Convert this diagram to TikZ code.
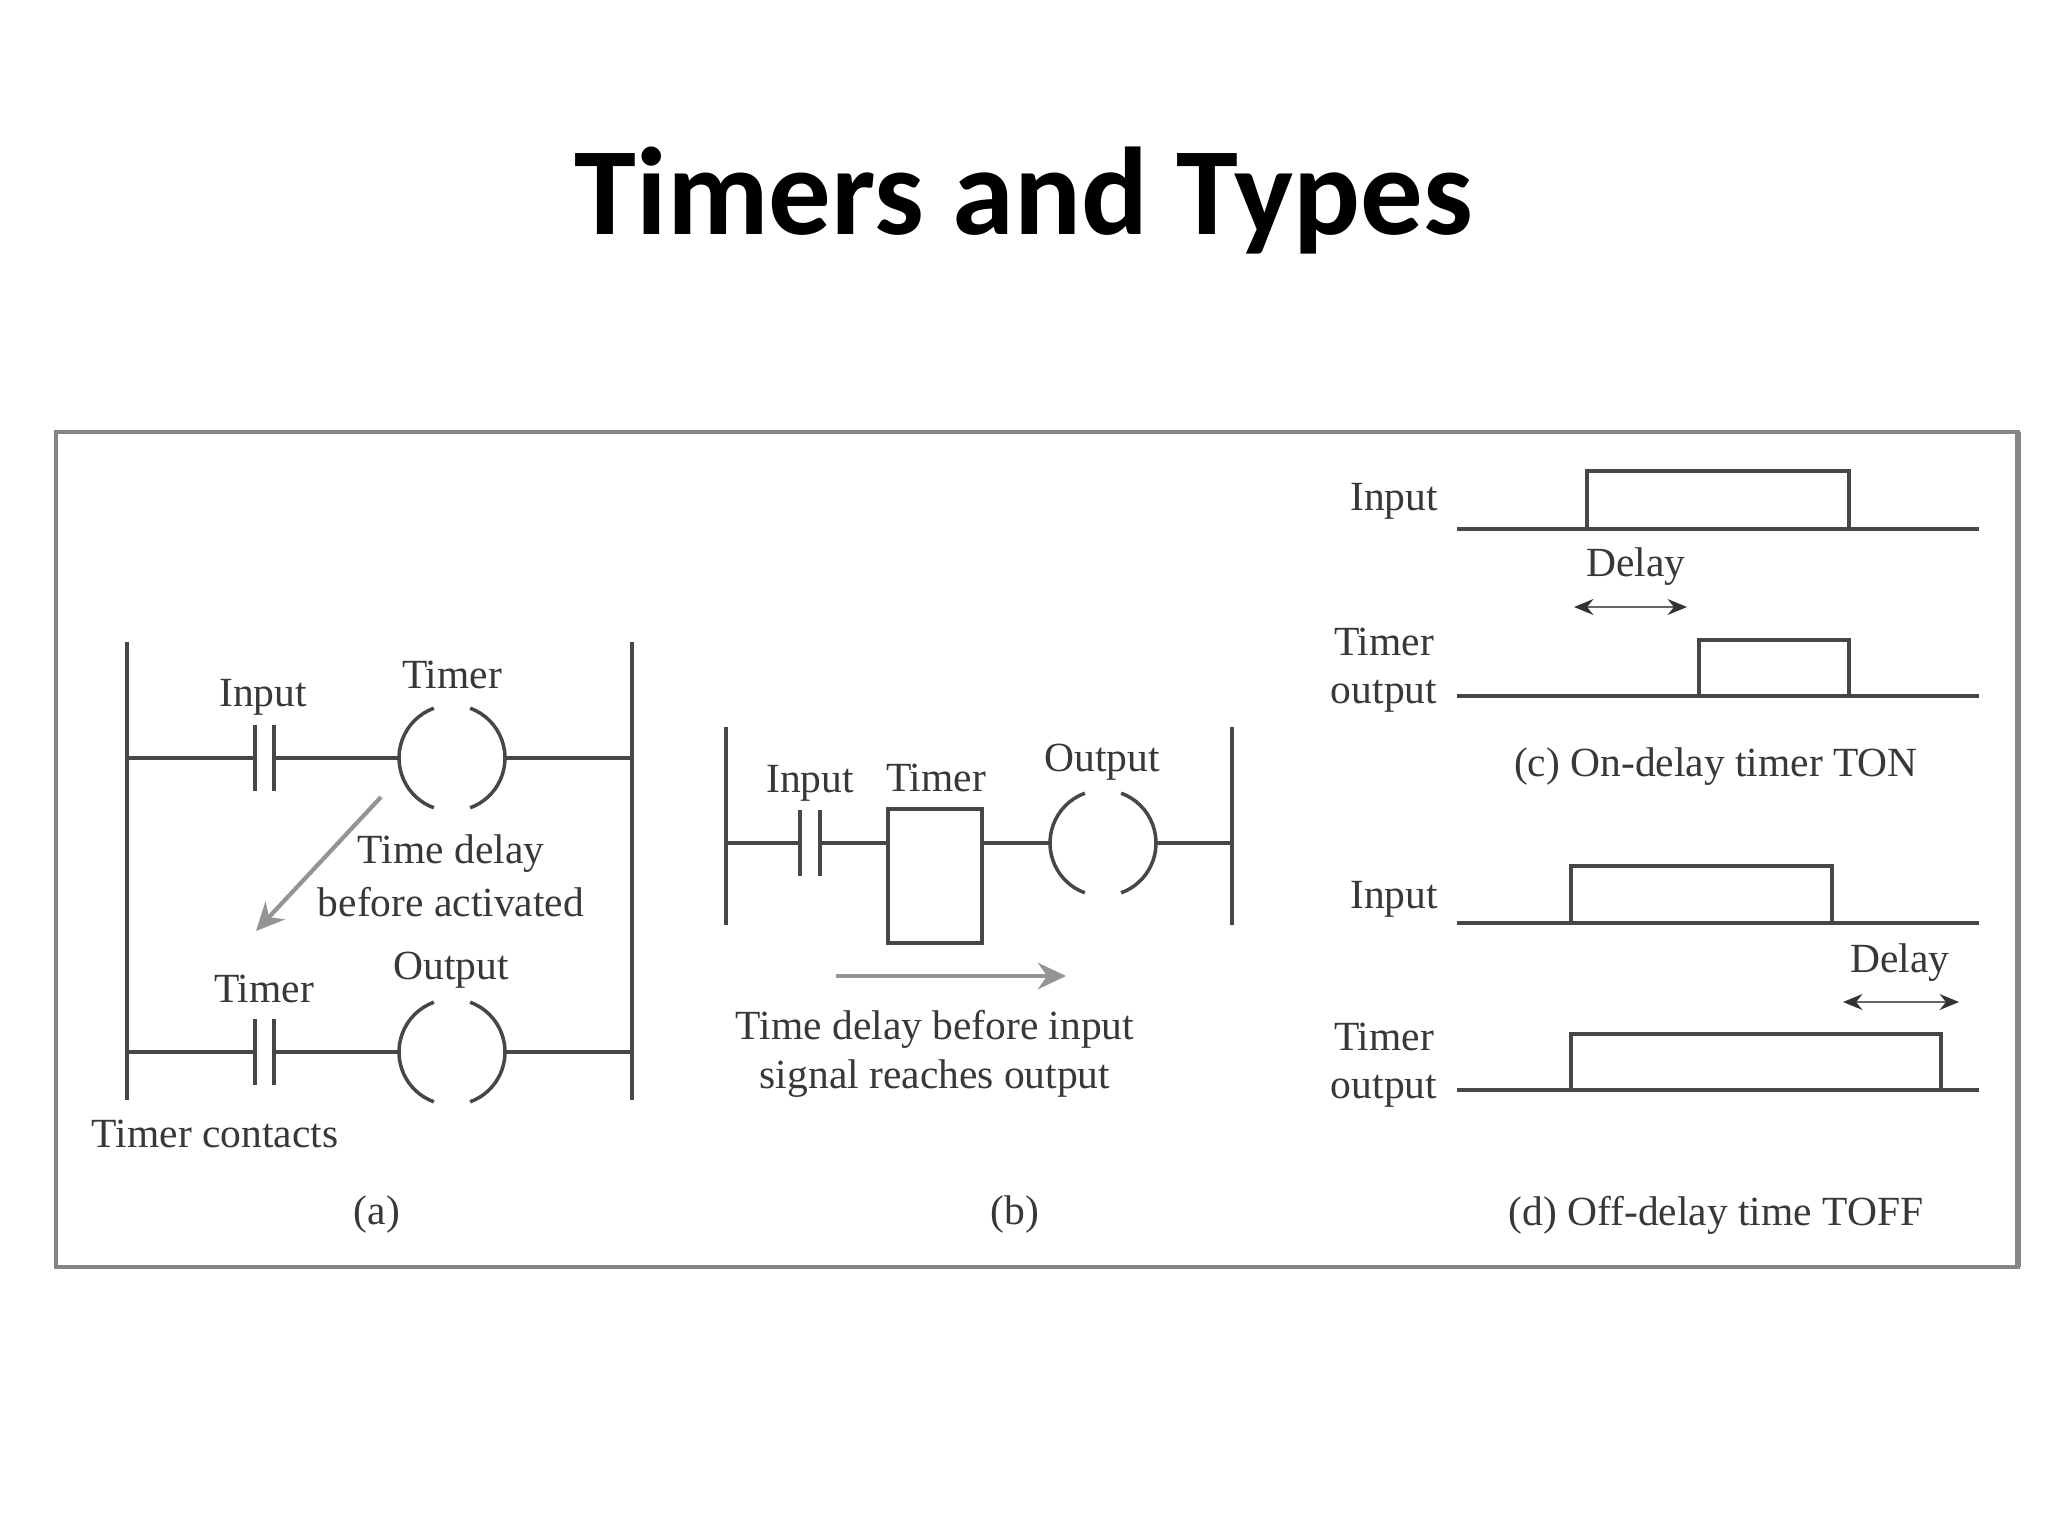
\documentclass[tikz,border=0pt]{standalone}
\usepackage{fontspec}
\setmainfont{Liberation Serif}
\newfontfamily\titlefont{Carlito}
\usetikzlibrary{arrows.meta}
\tikzset{
  label/.style={text=black!78,inner sep=0pt,font=\fontsize{11.8}{13}\selectfont},
  wire/.style={draw=black!72,line width=1.0pt},
  coil/.style={circle,inner sep=0pt,minimum size=1.06cm},
  timerbox/.style={draw=black!72,line width=1.2pt,inner sep=0pt,minimum width=0.94cm,minimum height=1.34cm},
  flowarrow/.style={draw=black!42,line width=1.2pt,-{Stealth[length=8pt,width=7.5pt]}},
  delayarrow/.style={draw=black!60,line width=0.7pt,{Stealth[length=5.5pt,width=4.5pt,black!80]}-{Stealth[length=5.5pt,width=4.5pt,black!80]}},
}
\begin{document}
\begin{tikzpicture}[x=0.01cm,y=-0.01cm]
      \path[fill=white,use as bounding box] (0,0) rectangle (2048,1536);
      \node[inner sep=0pt,font=\titlefont\bfseries\fontsize{35.5}{40}\selectfont] (title) at (1024,201) {Timers and Types};
      \draw[draw=black!48,line width=1.2pt] (56,432) rectangle (2018,1267);
      \draw[draw=black!48,line width=1.6pt] (2018,432) -- (2018,1267);
      % (a) ladder with coil
      \draw
        (127,642) coordinate (aLT)
        (127,1100) coordinate (aLB)
        (632,642) coordinate (aRT)
        (632,1100) coordinate (aRB)
        (127,758) coordinate (aL1)
        (632,758) coordinate (aR1)
        (127,1052) coordinate (aL2)
        (632,1052) coordinate (aR2)
        (255,758) coordinate (aC1)
        (274,758) coordinate (aD1)
        (255,1052) coordinate (aC2)
        (274,1052) coordinate (aD2)
        (381,797) coordinate (aFrom)
        (256,931) coordinate (aTo);
      \node[coil] (coilA) at (452,758) {};
      \node[coil] (coilB) at (452,1052) {};
      \draw
        (263,697) node[label] (aInput){Input}
        (452,675) node[label] (aTimer){Timer}
        (451,854) node[label] (aDelay){Time delay}
        (451,902) node[label] (aBefore){before activated}
        (264,989) node[label] (aContact){Timer}
        (451,970) node[label] (aOutput){Output}
        (215,1134) node[label] (aContacts){Timer contacts}
        (377,1215) node[label] (aCap){(a)};
      \begin{scope}[wire]
        \draw (aLT) to (aLB);
        \draw (aRT) to (aRB);
        \draw (aL1) to (aC1);
        \draw (aD1) to (coilA.west);
        \draw (coilA.east) to (aR1);
        \draw (aL2) to (aC2);
        \draw (aD2) to (coilB.west);
        \draw (coilB.east) to (aR2);
      \end{scope}
      \draw[flowarrow] (aFrom) to (aTo);
      % (b) ladder with box
      \draw
        (726,727) coordinate (bLT)
        (726,925) coordinate (bLB)
        (1232,727) coordinate (bRT)
        (1232,925) coordinate (bRB)
        (726,843) coordinate (bL)
        (1232,843) coordinate (bR)
        (800,843) coordinate (bC)
        (820,843) coordinate (bD)
        (836,976) coordinate (bFrom)
        (1066,976) coordinate (bTo);
      \node[timerbox] (box) at (935,876) {};
      \node[coil] (coilC) at (1103,843) {};
      \draw
        (810,783) node[label] (bInput){Input}
        (936,778) node[label] (bTimer){Timer}
        (1102,762) node[label] (bOutput){Output}
        (935,1029) node[label] (bDelay){Time delay before input}
        (935,1079) node[label] (bSignal){signal reaches output}
        (1015,1215) node[label] (bCap){(b)};
      \begin{scope}[wire]
        \draw (bLT) to (bLB);
        \draw (bRT) to (bRB);
        \draw (bL) to (bC);
        \draw (bD) to (box.west |- bD);
        \draw (box.east |- bD) to (coilC.west);
        \draw (coilC.east) to (bR);
      \end{scope}
      \draw[flowarrow] (bFrom) to (bTo);
      % contacts and coils
      \begin{scope}[wire]
        \foreach \c in {aC1,aD1,aC2,aD2,bC,bD}
          \draw ([yshift=-9.3pt]\c) to ([yshift=9.3pt]\c);
        \foreach \c in {coilA,coilB,coilC} {
          \draw (\c.center) ++(70:53) arc[start angle=70,end angle=-70,radius=53];
          \draw (\c.center) ++(110:53) arc[start angle=110,end angle=250,radius=53];
        }
      \end{scope}
      % (c) on-delay
      \draw
        (1457,529) coordinate (cIL)
        (1979,529) coordinate (cIR)
        (1587,529) coordinate (cIa)
        (1587,471) coordinate (cIb)
        (1849,471) coordinate (cIc)
        (1849,529) coordinate (cId)
        (1457,696) coordinate (cOL)
        (1979,696) coordinate (cOR)
        (1699,696) coordinate (cOa)
        (1699,640) coordinate (cOb)
        (1849,640) coordinate (cOc)
        (1849,696) coordinate (cOd)
        (1574,607) coordinate (cAL)
        (1687,607) coordinate (cAR);
      \draw
        (1394,501) node[label] (cInput){Input}
        (1636,567) node[label] (cDelay){Delay}
        (1384,642) node[label] (cTimer){Timer}
        (1384,696) node[label] (cOutput){output}
        (1716,767) node[label] (cCap){(c) On-delay timer TON};
      % (d) off-delay
      \draw
        (1457,923) coordinate (dIL)
        (1979,923) coordinate (dIR)
        (1571,923) coordinate (dIa)
        (1571,866) coordinate (dIb)
        (1832,866) coordinate (dIc)
        (1832,923) coordinate (dId)
        (1457,1090) coordinate (dOL)
        (1979,1090) coordinate (dOR)
        (1571,1090) coordinate (dOa)
        (1571,1034) coordinate (dOb)
        (1941,1034) coordinate (dOc)
        (1941,1090) coordinate (dOd)
        (1843,1002) coordinate (dAL)
        (1959,1002) coordinate (dAR);
      \draw
        (1394,899) node[label] (dInput){Input}
        (1900,963) node[label] (dDelay){Delay}
        (1384,1037) node[label] (dTimer){Timer}
        (1384,1091) node[label] (dOutput){output}
        (1716,1215) node[label] (dCap){(d) Off-delay time TOFF};
      \begin{scope}[wire]
        \foreach \w in {cI,cO,dI,dO} {
          \draw (\w L) to (\w R);
          \draw (\w a) -- (\w b) -- (\w c) -- (\w d);
        }
      \end{scope}
      \draw[delayarrow] (cAL) to (cAR);
      \draw[delayarrow] (dAL) to (dAR);
    \end{tikzpicture}
\end{document}
